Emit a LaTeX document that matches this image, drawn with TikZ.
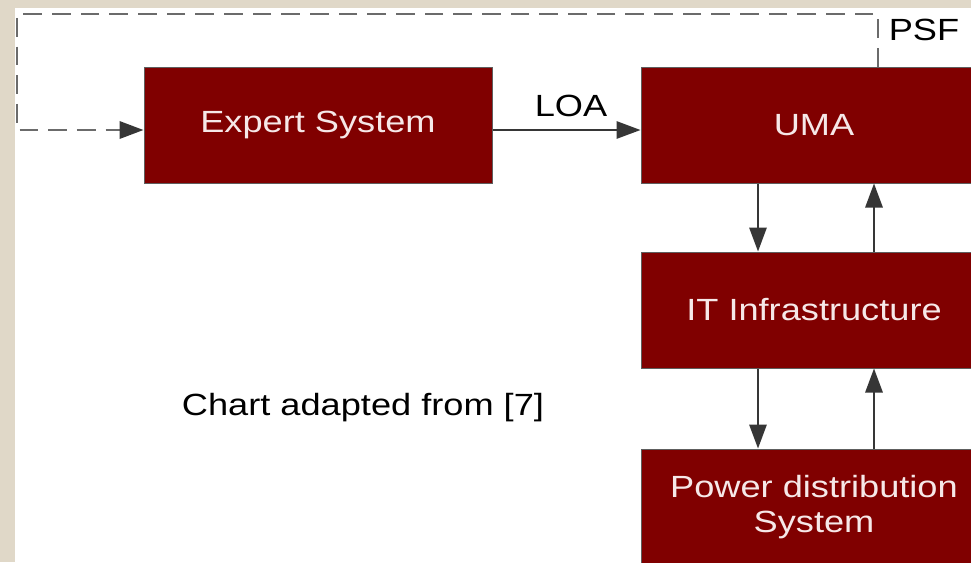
\documentclass[tikz,border=0pt]{standalone}
\usepackage{fontspec}
\setmainfont[FakeStretch=1.18]{Liberation Sans}
\usetikzlibrary{arrows.meta}

\newlength{\du}
\setlength{\du}{0.75pt}

\definecolor{framecolor}{rgb}{0.878, 0.847, 0.784}
\definecolor{boxcolor}{rgb}{0.500, 0.000, 0.000}
\definecolor{boxtextcolor}{rgb}{0.965, 0.910, 0.910}
\definecolor{edgecolor}{rgb}{0.210, 0.210, 0.210}
\definecolor{dashcolor}{rgb}{0.420, 0.420, 0.420}

\tikzset{
  blockbox/.style={draw=edgecolor!80, line width=1\du, fill=boxcolor,
    text=boxtextcolor, align=center, inner sep=0pt,
    minimum width=346\du, minimum height=116\du,
    font=\fontsize{23}{26}\selectfont},
  flowarrow/.style={draw=edgecolor, line width=2\du,
    -{Triangle[length=18pt,width=13pt]}},
  feedback/.style={draw=dashcolor, line width=2.5\du,
    dash pattern=on 14pt off 7.5pt,
    -{Triangle[length=18pt,width=13pt,color=edgecolor]}},
  plaintext/.style={text=black, inner sep=0pt,
    font=\fontsize{23}{26}\selectfont}
}

\begin{document}
\begin{tikzpicture}
\pgftransformyscale{-1.000000}
\useasboundingbox (0\du,0\du) rectangle (971\du,562\du);
\clip (0\du,0\du) rectangle (971\du,562\du);
% frame
\fill[framecolor] (0\du,0\du) rectangle (971\du,562\du);
\fill[white] (15\du,8\du) rectangle (971\du,562\du);
% blocks
\node[blockbox, minimum width=348\du] (expert) at (318\du,125\du) {Expert System};
\node[blockbox] (uma) at (814\du,125\du) {UMA};
\node[blockbox] (infra) at (814\du,310\du) {IT Infrastructure};
\node[blockbox] (power) at (814\du,507\du) {Power distribution\\System};
% helper points
\coordinate (loaY) at (0\du,130\du);
\coordinate (downX) at (758\du,0\du);
\coordinate (upX) at (874\du,0\du);
\coordinate (psfTop) at (878\du,14\du);
\coordinate (psfLeft) at (17\du,14\du);
% LOA
\draw[flowarrow] (expert.east |- loaY) -- (uma.west |- loaY);
\node[plaintext] (loa) at (571\du,106\du) {LOA};
% PSF feedback
\draw[feedback] (uma.north -| psfTop) -- (psfTop) -- (psfLeft) |- (expert.west |- loaY);
\node[plaintext] (psf) at (924\du,30\du) {PSF};
% uma <-> infra
\draw[flowarrow] (uma.south -| downX) -- (infra.north -| downX);
\draw[flowarrow] (infra.north -| upX) -- (uma.south -| upX);
% infra <-> power
\draw[flowarrow] (infra.south -| downX) -- (power.north -| downX);
\draw[flowarrow] (power.north -| upX) -- (infra.south -| upX);
% note
\node[plaintext] (source) at (363\du,408\du) {Chart adapted from [7]};
\end{tikzpicture}
\end{document}
